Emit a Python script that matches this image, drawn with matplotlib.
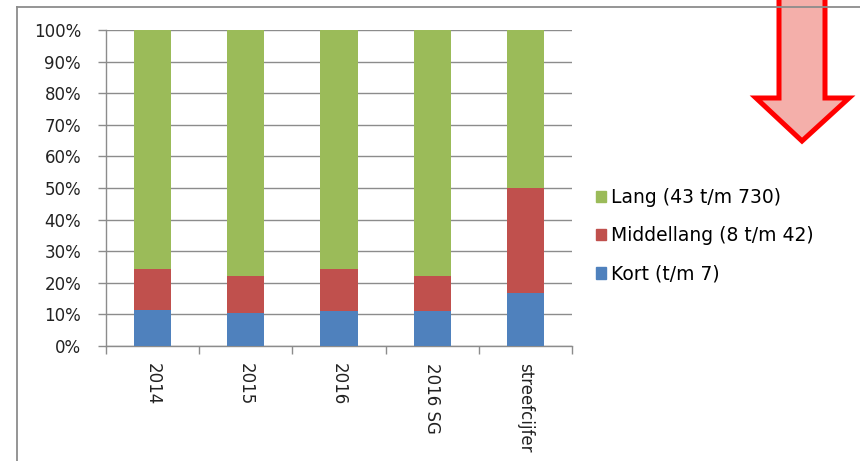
import matplotlib
matplotlib.use("Agg")
import matplotlib.pyplot as plt
from matplotlib.patches import Polygon, Patch
from matplotlib.lines import Line2D
import numpy as np

categories = ["2014", "2015", "2016", "2016 SG", "streefcijfer"]
kort = [11.5, 10.3, 11.0, 11.0, 16.8]
middellang = [13.0, 12.0, 13.3, 11.3, 33.2]
lang = [100 - k - m for k, m in zip(kort, middellang)]
series_labels = ["Kort (t/m 7)", "Middellang (8 t/m 42)", "Lang (43 t/m 730)"]
colors = ["#4F81BD", "#C0504D", "#9BBB59"]
yticks = list(range(0, 101, 10))

plt.rcParams['font.family'] = ['DejaVu Sans']

W, H = 860, 461
fig = plt.figure(figsize=(W / 100, H / 100), dpi=100)

def px(x, y):
    return (x / W, 1 - y / H)

# outer chart border
fig.add_artist(Line2D([17 / W, 17 / W], [0, 1 - 7 / H], transform=fig.transFigure, color="#8C8C8C", lw=1.3))
fig.add_artist(Line2D([17 / W, 1], [1 - 7 / H, 1 - 7 / H], transform=fig.transFigure, color="#8C8C8C", lw=1.3))

l, r, t, b = 106, 572, 30, 346
ax = fig.add_axes([l / W, 1 - b / H, (r - l) / W, (b - t) / H])

x = np.arange(len(categories))
bottom = np.zeros(len(categories))
for vals, c, lab in zip([kort, middellang, lang], colors, series_labels):
    ax.bar(x, vals, width=0.4, bottom=bottom, color=c, zorder=3, label=lab)
    bottom += np.array(vals)

fs = 12
ax.set_xlim(-0.5, len(categories) - 0.5)
ax.set_ylim(0, 100)
ax.set_yticks(yticks)
ax.set_yticklabels([f"{v}%" for v in yticks], fontsize=fs, color="#222222")
ax.yaxis.grid(True, color="#8C8C8C", lw=1.0, zorder=0)
ax.set_xticks(x)
ax.set_xticklabels(categories, rotation=270, fontsize=fs, color="#222222", va="top", ha="center")
ax.tick_params(axis="x", length=0, pad=12)
ax.set_xticks(np.arange(-0.5, len(categories), 1.0), minor=True)
ax.tick_params(axis="x", which="minor", length=6, color="#8C8C8C", width=1)
ax.tick_params(axis="y", length=6, color="#8C8C8C", width=1, pad=12)
for s in ["top", "right"]:
    ax.spines[s].set_visible(False)
for s in ["left", "bottom"]:
    ax.spines[s].set_color("#8C8C8C")
    ax.spines[s].set_linewidth(1)

leg_handles = [Patch(color=c) for c in colors][::-1]
leg_labels = series_labels[::-1]
fig.legend(leg_handles, leg_labels, loc="upper left", bbox_to_anchor=px(596, 188),
           frameon=False, fontsize=13.5, handlelength=0.55, handleheight=0.55,
           handletextpad=0.25, labelspacing=1.03, borderaxespad=0, borderpad=0)

# arrow
pts = [(779, -10), (825, -10), (825, 98), (849, 98), (802, 141), (756, 98), (779, 98)]
arrow = Polygon([px(a, b_) for a, b_ in pts], closed=True, transform=fig.transFigure,
                facecolor="#F4AFAA", edgecolor="#FF0000", lw=3.6, joinstyle="miter")
fig.add_artist(arrow)

fig.savefig("out.png", dpi=100)
